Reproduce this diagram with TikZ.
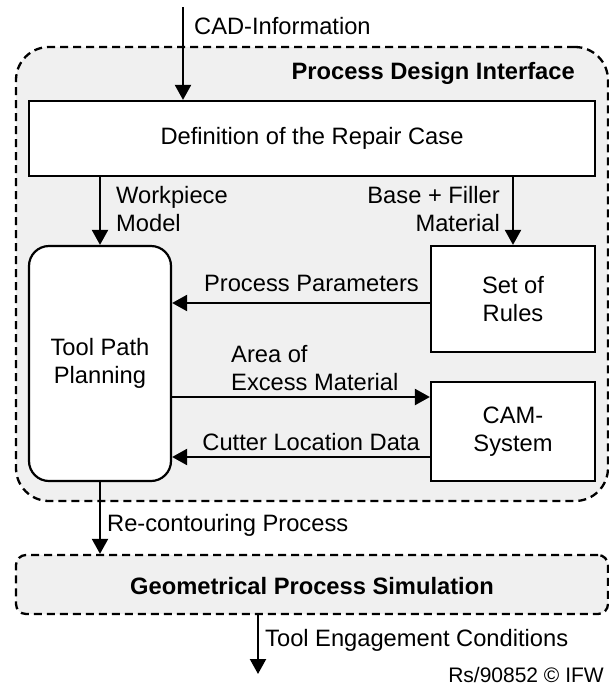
\documentclass[tikz,border=0pt]{standalone}
\usepackage{fontspec}
\setmainfont{Liberation Sans}
\usetikzlibrary{arrows.meta}
\definecolor{panelgray}{RGB}{240,240,240}
\tikzset{
  x=1pt, y=-1pt,
  txt/.style={inner sep=0pt, font=\fontsize{23.7pt}{28pt}\selectfont},
  boldtxt/.style={txt, font=\fontsize{23.7pt}{28pt}\selectfont\bfseries},
  panel/.style={draw=black, line width=2.3pt, dash pattern=on 8pt off 5pt, fill=panelgray, inner sep=0pt},
  whitebox/.style={draw=black, line width=2.2pt, fill=white, inner sep=0pt, align=center, font=\fontsize{23.7pt}{28pt}\selectfont},
  arr/.style={line width=2.2pt, -{Triangle[length=15pt,width=16pt]}}
}
\begin{document}
\begin{tikzpicture}
\useasboundingbox (0,0) rectangle (609,686);
% panels
\node[panel, rounded corners=33pt, minimum width=592pt, minimum height=454pt] (pdi) at (312,274) {};
\node[panel, rounded corners=10pt, minimum width=592pt, minimum height=59pt] (geom) at (312,584.5) {};
\node[boldtxt] (geomlabel) at (312,586) {Geometrical Process Simulation};
\node[boldtxt, anchor=east] (pdilabel) at (575,73) {Process Design Interface};
% boxes
\node[whitebox, minimum width=566pt, minimum height=75pt] (def) at (312,138.5) {Definition of the Repair Case};
\node[whitebox, rounded corners=20pt, minimum width=142pt, minimum height=235pt] (tpp) at (100,363.5) {Tool Path\\Planning};
\node[whitebox, minimum width=164pt, minimum height=106pt] (rules) at (513,299) {Set of\\Rules};
\node[whitebox, minimum width=164pt, minimum height=99pt] (cam) at (513,431.5) {CAM-\\System};
% helper coordinates
\coordinate (cadtop) at (183,7);
\coordinate (wp) at (100,0);
\coordinate (bf) at (513,0);
\coordinate (pp) at (0,303);
\coordinate (ae) at (0,397);
\coordinate (cl) at (0,457);
\coordinate (te) at (258,674);
% connectors
\draw[arr] (cadtop) -- (cadtop |- def.north);
\draw[arr] (wp |- def.south) -- (wp |- tpp.north);
\draw[arr] (bf |- def.south) -- (bf |- rules.north);
\draw[arr] (rules.west |- pp) -- (tpp.east |- pp);
\draw[arr] (tpp.east |- ae) -- (cam.west |- ae);
\draw[arr] (cam.west |- cl) -- (tpp.east |- cl);
\draw[arr] (wp |- tpp.south) -- (wp |- geom.north);
\draw[arr] (te |- geom.south) -- (te);
% labels
\node[txt, anchor=west] (cadlabel) at (194,26) {CAD-Information};
\node[txt, anchor=west, align=left] (wplabel) at (116,209) {Workpiece\\Model};
\node[txt, anchor=east, align=right] (bflabel) at (500,209) {Base + Filler\\Material};
\node[txt, anchor=east] (pplabel) at (419,283) {Process Parameters};
\node[txt, anchor=west, align=left] (aelabel) at (231,368) {Area of\\Excess Material};
\node[txt, anchor=east] (cllabel) at (420,442) {Cutter Location Data};
\node[txt, anchor=west] (rclabel) at (107,525) {Re-contouring Process};
\node[txt, anchor=west] (telabel) at (265,640) {Tool Engagement Conditions};
\node[inner sep=0pt, anchor=east, font=\fontsize{21pt}{25pt}\selectfont] (credit) at (604,675) {Rs/90852 © IFW};
\end{tikzpicture}
\end{document}
